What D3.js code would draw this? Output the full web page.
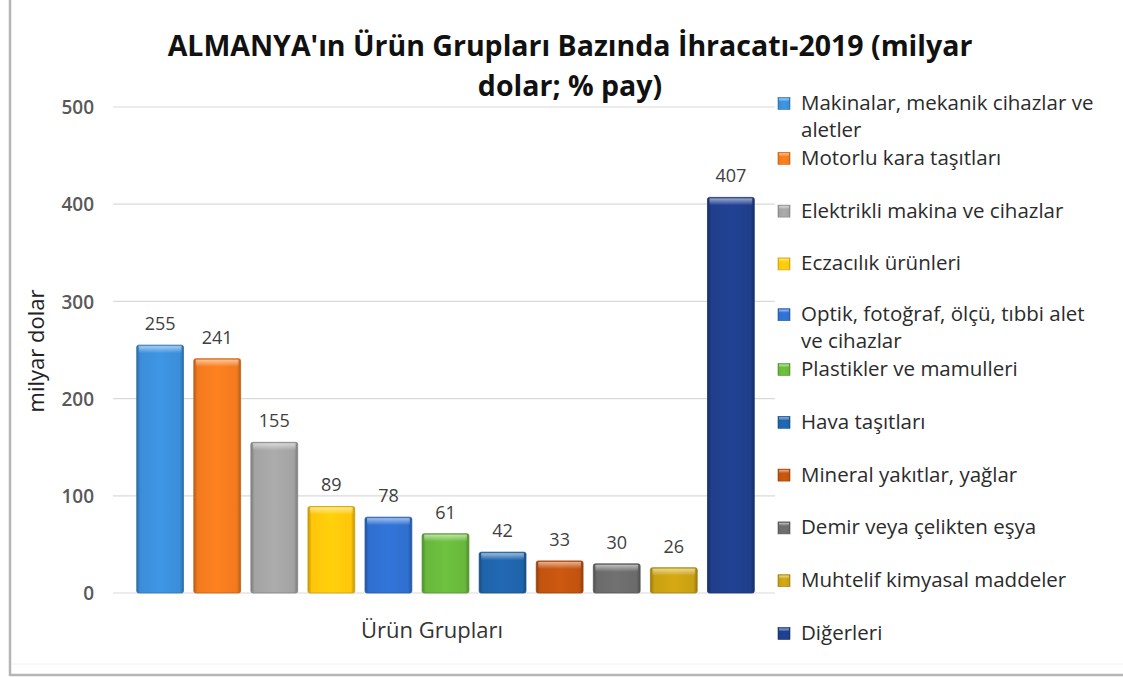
<!DOCTYPE html>
<html>
<head>
<meta charset="utf-8">
<script src="https://cdn.jsdelivr.net/npm/d3@7"></script>
<style>
  html, body { margin: 0; padding: 0; background: #fff; }
  svg { display: block; font-family: "Open Sans", sans-serif; }
</style>
</head>
<body>
<svg id="chart" width="1123" height="677"></svg>
<script>
const categories = [
  "Makinalar, mekanik cihazlar ve aletler",
  "Motorlu kara taşıtları",
  "Elektrikli makina ve cihazlar",
  "Eczacılık ürünleri",
  "Optik, fotoğraf, ölçü, tıbbi alet ve cihazlar",
  "Plastikler ve mamulleri",
  "Hava taşıtları",
  "Mineral yakıtlar, yağlar",
  "Demir veya çelikten eşya",
  "Muhtelif kimyasal maddeler",
  "Diğerleri"
];
const values = [255, 241, 155, 89, 78, 61, 42, 33, 30, 26, 407];
const colors = ["#3b8ed9", "#f27a1e", "#a3a3a3", "#ffc60a", "#2f6fcf", "#68b83c",
                "#1f64aa", "#c2530f", "#6b6b6b", "#c9a012", "#1f3f8c"];
const yTicks = [0, 100, 200, 300, 400, 500];
const titleLines = ["ALMANYA'ın Ürün Grupları Bazında İhracatı-2019 (milyar", "dolar; % pay)"];
const yAxisTitle = "milyar dolar";
const xAxisTitle = "Ürün Grupları";

(function () {
const svg = d3.select("#chart");
const defs = svg.append("defs");

const x = d3.scaleBand().domain(categories).range([131, 760]).paddingInner(0.18).paddingOuter(0.1);
const y = d3.scaleLinear().domain([0, 500]).range([593, 107]);

// frame
svg.append("line").attr("x1", 10).attr("x2", 10).attr("y1", 0).attr("y2", 676)
  .attr("stroke", "#b5b5b5").attr("stroke-width", 2.5);
svg.append("line").attr("x1", 10).attr("x2", 1123).attr("y1", 675).attr("y2", 675)
  .attr("stroke", "#b5b5b5").attr("stroke-width", 2.5);
svg.append("line").attr("x1", 12).attr("x2", 1123).attr("y1", 664).attr("y2", 664)
  .attr("stroke", "#f2f2f2").attr("stroke-width", 1);

// gradients
colors.forEach((c, i) => {
  const base = d3.color(c);
  const g = defs.append("linearGradient").attr("id", "g" + i)
    .attr("x1", "0%").attr("x2", "100%").attr("y1", "0%").attr("y2", "0%");
  g.append("stop").attr("offset", "0%").attr("stop-color", base.darker(0.8));
  g.append("stop").attr("offset", "8%").attr("stop-color", base);
  g.append("stop").attr("offset", "50%").attr("stop-color", base.brighter(0.15));
  g.append("stop").attr("offset", "92%").attr("stop-color", base);
  g.append("stop").attr("offset", "100%").attr("stop-color", base.darker(0.8));
});
const hi = defs.append("linearGradient").attr("id", "topHi")
  .attr("x1", "0%").attr("x2", "0%").attr("y1", "0%").attr("y2", "100%");
hi.append("stop").attr("offset", "0%").attr("stop-color", "#fff").attr("stop-opacity", 0.55);
hi.append("stop").attr("offset", "100%").attr("stop-color", "#fff").attr("stop-opacity", 0);

// gridlines
svg.append("g").selectAll("line").data(yTicks).join("line")
  .attr("x1", 113).attr("x2", 775)
  .attr("y1", d => y(d)).attr("y2", d => y(d))
  .attr("stroke", "#dadada").attr("stroke-width", 1.2);

// y axis labels
const yAxis = d3.axisLeft(y).tickValues(yTicks).tickSize(0).tickPadding(0);
const yg = svg.append("g").attr("transform", "translate(94,0)").call(yAxis);
yg.select(".domain").remove();
yg.selectAll("text").attr("font-size", 19).attr("font-weight", 600)
  .attr("fill", "#595959").attr("font-family", "'Open Sans', sans-serif")
  .attr("dy", "0.35em");

// bars
const bars = svg.append("g").selectAll("g").data(categories).join("g");
bars.append("rect")
  .attr("x", d => x(d)).attr("width", x.bandwidth())
  .attr("y", (d, i) => y(values[i])).attr("height", (d, i) => y(0) - y(values[i]))
  .attr("fill", (d, i) => "url(#g" + i + ")")
  .attr("stroke", (d, i) => d3.color(colors[i]).darker(0.6)).attr("stroke-width", 0.8)
  .attr("rx", 2);
bars.append("rect")
  .attr("x", d => x(d) + 2).attr("width", x.bandwidth() - 4)
  .attr("y", (d, i) => y(values[i]) + 1).attr("height", 7)
  .attr("fill", "url(#topHi)");

// value labels
bars.append("text")
  .attr("x", d => x(d) + x.bandwidth() / 2)
  .attr("y", (d, i) => y(values[i]) - 15)
  .attr("text-anchor", "middle").attr("font-size", 18)
  .attr("fill", "#404040")
  .text((d, i) => values[i]);

// title
svg.append("g").selectAll("text").data(titleLines).join("text")
  .attr("x", 570).attr("y", (d, i) => 56 + i * 40)
  .attr("text-anchor", "middle").attr("font-size", 28.5).attr("font-weight", "bold")
  .attr("fill", "#111").text(d => d);

// axis titles
svg.append("text").attr("transform", "translate(44,351) rotate(-90)")
  .attr("text-anchor", "middle").attr("font-size", 22).attr("fill", "#222")
  .text(yAxisTitle);
svg.append("text").attr("x", 432).attr("y", 638)
  .attr("text-anchor", "middle").attr("font-size", 22).attr("fill", "#333")
  .text(xAxisTitle);

// legend
const legend = svg.append("g");
const maxW = 300;
const fs = 20.5;
categories.forEach((c, i) => {
  const cy = 105 + 52.8 * i;
  const g = legend.append("g");
  const txt = g.append("text").attr("x", 801).attr("font-size", fs).attr("fill", "#2b2b2b");
  const words = c.split(" ");
  let lines = [], cur = "";
  const probe = g.append("text").attr("font-size", fs).attr("visibility", "hidden");
  words.forEach(w => {
    const t = cur ? cur + " " + w : w;
    probe.text(t);
    if (probe.node().getComputedTextLength() > maxW && cur) { lines.push(cur); cur = w; }
    else cur = t;
  });
  lines.push(cur);
  probe.remove();
  const firstY = lines.length > 1 ? cy + 5 : cy + 7;
  lines.forEach((l, j) => {
    txt.append("tspan").attr("x", 801).attr("y", firstY + j * 27).text(l);
  });
  g.append("rect").attr("x", 778).attr("y", firstY - 12.5).attr("width", 12).attr("height", 12)
    .attr("fill", "url(#g" + i + ")")
    .attr("stroke", d3.color(colors[i]).darker(0.6)).attr("stroke-width", 0.6);
  g.append("rect").attr("x", 779).attr("y", firstY - 11.5).attr("width", 10).attr("height", 3)
    .attr("fill", "url(#topHi)");
});
})();
</script>
</body>
</html>
